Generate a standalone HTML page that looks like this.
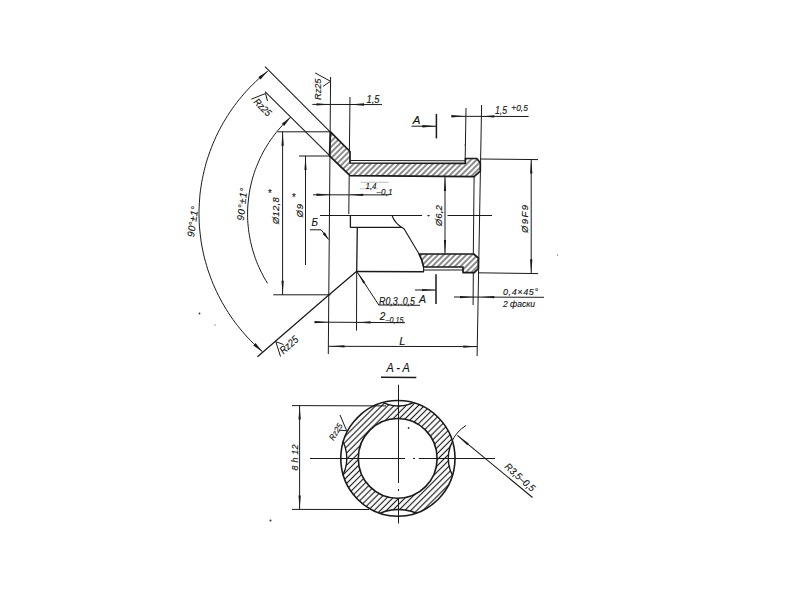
<!DOCTYPE html>
<html><head><meta charset="utf-8"><style>
html,body{margin:0;padding:0;background:#fff;width:800px;height:600px;overflow:hidden}
svg{display:block}
text{font-family:"Liberation Sans",sans-serif}
</style></head><body>
<svg width="800" height="600" viewBox="0 0 800 600">
<rect width="800" height="600" fill="#fff"/>
<line x1="330.6" y1="77.0" x2="328.3" y2="354.0" stroke="#1a1a1a" stroke-width="1.0" />
<line x1="350.0" y1="97.0" x2="349.4" y2="152.0" stroke="#1a1a1a" stroke-width="1.0" />
<line x1="349.2" y1="176.0" x2="348.8" y2="214.0" stroke="#1a1a1a" stroke-width="1.0" />
<line x1="466.0" y1="108.0" x2="465.2" y2="158.5" stroke="#1a1a1a" stroke-width="1.0" />
<line x1="481.6" y1="105.0" x2="477.1" y2="356.0" stroke="#1a1a1a" stroke-width="1.0" />
<line x1="474.1" y1="177.0" x2="473.3" y2="254.0" stroke="#1a1a1a" stroke-width="1.0" />
<line x1="473.3" y1="272.6" x2="473.1" y2="305.0" stroke="#1a1a1a" stroke-width="1.0" />
<line x1="265.0" y1="66.7" x2="330.2" y2="131.8" stroke="#1a1a1a" stroke-width="1.05" />
<line x1="265.0" y1="91.7" x2="329.9" y2="155.8" stroke="#1a1a1a" stroke-width="1.05" />
<path d="M356.7,271.3 L328.8,295.0 L257.5,356.7" fill="none" stroke="#1a1a1a" stroke-width="1.25" stroke-linejoin="round"/>
<line x1="277.5" y1="131.8" x2="330.5" y2="131.8" stroke="#1a1a1a" stroke-width="1.0" />
<line x1="299.0" y1="156.0" x2="330.5" y2="156.0" stroke="#1a1a1a" stroke-width="1.0" />
<line x1="273.3" y1="294.8" x2="330.5" y2="294.8" stroke="#1a1a1a" stroke-width="1.0" />
<line x1="480.3" y1="159.0" x2="538.0" y2="159.6" stroke="#1a1a1a" stroke-width="1.0" />
<line x1="478.0" y1="272.8" x2="538.0" y2="273.6" stroke="#1a1a1a" stroke-width="1.0" />
<line x1="282.6" y1="131.8" x2="282.6" y2="294.8" stroke="#1a1a1a" stroke-width="1.0" />
<path d="M282.6,131.8 L283.8,145.8 L281.5,145.8 Z" fill="#1a1a1a"/>
<path d="M282.6,294.8 L281.5,280.8 L283.8,280.8 Z" fill="#1a1a1a"/>
<line x1="305.5" y1="156.0" x2="305.5" y2="265.0" stroke="#1a1a1a" stroke-width="1.0" />
<path d="M305.5,156.0 L306.6,170.0 L304.4,170.0 Z" fill="#1a1a1a"/>
<line x1="531.2" y1="159.5" x2="531.2" y2="273.3" stroke="#1a1a1a" stroke-width="1.0" />
<path d="M531.2,159.5 L532.4,173.5 L530.1,173.5 Z" fill="#1a1a1a"/>
<path d="M531.2,273.3 L530.1,259.3 L532.4,259.3 Z" fill="#1a1a1a"/>
<line x1="445.0" y1="177.0" x2="445.0" y2="254.0" stroke="#1a1a1a" stroke-width="1.0" />
<path d="M445.0,177.0 L446.1,191.0 L443.9,191.0 Z" fill="#1a1a1a"/>
<path d="M445.0,254.0 L443.9,240.0 L446.1,240.0 Z" fill="#1a1a1a"/>
<path d="M320,215.5 L422,215.5 M427.5,215.5 L429.5,215.5 M447.5,215.5 L492,215.5" stroke="#1a1a1a" stroke-width="1"/>
<line x1="312.3" y1="104.4" x2="382.0" y2="104.6" stroke="#1a1a1a" stroke-width="1.0" />
<path d="M330.5,104.4 L316.5,105.6 L316.5,103.2 Z" fill="#1a1a1a"/>
<path d="M350.0,104.5 L364.0,103.3 L364.0,105.7 Z" fill="#1a1a1a"/>
<line x1="452.5" y1="116.3" x2="528.6" y2="116.5" stroke="#1a1a1a" stroke-width="1.0" />
<path d="M465.3,116.3 L451.3,117.5 L451.3,115.1 Z" fill="#1a1a1a"/>
<path d="M480.3,116.4 L494.3,115.2 L494.3,117.6 Z" fill="#1a1a1a"/>
<line x1="436.4" y1="113.9" x2="436.4" y2="138.4" stroke="#1a1a1a" stroke-width="1.5" />
<line x1="411.4" y1="126.2" x2="436.4" y2="126.2" stroke="#1a1a1a" stroke-width="1.0" />
<path d="M436.4,126.2 L422.4,127.4 L422.4,125.0 Z" fill="#1a1a1a"/>
<line x1="436.0" y1="274.3" x2="436.0" y2="304.0" stroke="#1a1a1a" stroke-width="1.5" />
<line x1="415.0" y1="290.0" x2="436.0" y2="290.0" stroke="#1a1a1a" stroke-width="1.0" />
<path d="M436.0,290.0 L422.0,291.1 L422.0,288.9 Z" fill="#1a1a1a"/>
<line x1="313.0" y1="194.8" x2="388.8" y2="194.9" stroke="#1a1a1a" stroke-width="1.0" />
<path d="M330.5,194.8 L316.5,195.9 L316.5,193.6 Z" fill="#1a1a1a"/>
<path d="M349.2,194.8 L363.2,193.7 L363.2,196.0 Z" fill="#1a1a1a"/>
<line x1="360.6" y1="182.3" x2="388.7" y2="182.3" stroke="#aaa" stroke-width="0.8"/>
<line x1="360" y1="188.8" x2="378" y2="188.8" stroke="#bbb" stroke-width="0.8"/>
<line x1="314.4" y1="322.1" x2="405.0" y2="322.7" stroke="#1a1a1a" stroke-width="1.0" />
<path d="M356.6,322.4 L370.6,321.2 L370.6,323.5 Z" fill="#1a1a1a"/>
<path d="M328.7,322.2 L314.7,323.3 L314.7,321.1 Z" fill="#1a1a1a"/>
<line x1="328.3" y1="346.3" x2="477.3" y2="346.6" stroke="#1a1a1a" stroke-width="1.0" />
<path d="M330.5,346.3 L344.5,345.2 L344.5,347.4 Z" fill="#1a1a1a"/>
<path d="M477.3,346.6 L463.3,347.8 L463.3,345.5 Z" fill="#1a1a1a"/>
<line x1="454.0" y1="297.0" x2="544.0" y2="297.3" stroke="#1a1a1a" stroke-width="1.0" />
<path d="M474.0,297.1 L460.0,298.2 L460.0,296.0 Z" fill="#1a1a1a"/>
<path d="M480.3,297.1 L494.3,296.0 L494.3,298.2 Z" fill="#1a1a1a"/>
<path d="M356.7,271.3 L378.8,305.0 L420.0,305.3" fill="none" stroke="#1a1a1a" stroke-width="1.0" stroke-linejoin="round"/>
<path d="M356.7,271.3 L365.3,282.4 L363.4,283.6 Z" fill="#1a1a1a"/>
<path d="M310.0,229.8 L321.2,229.8 L328.6,239.5" fill="none" stroke="#1a1a1a" stroke-width="1.0" stroke-linejoin="round"/>
<path d="M328.6,239.5 L322.7,234.0 L324.9,232.3 Z" fill="#1a1a1a"/>
<path d="M267.8,71.1 L264.7,73.6 L261.6,76.2 L258.6,78.9 L255.7,81.6 L252.8,84.4 L250.0,87.2 L247.3,90.1 L244.6,93.1 L242.0,96.2 L239.4,99.2 L236.9,102.4 L234.5,105.6 L232.2,108.8 L229.9,112.1 L227.7,115.5 L225.6,118.9 L223.5,122.3 L221.6,125.8 L219.7,129.3 L217.9,132.9 L216.1,136.5 L214.5,140.2 L212.9,143.9 L211.4,147.6 L210.0,151.3 L208.7,155.1 L207.4,158.9 L206.2,162.8 L205.2,166.6 L204.2,170.5 L203.3,174.4 L202.5,178.3 L201.7,182.3 L201.1,186.2 L200.5,190.2 L200.0,194.2 L199.7,198.1 L199.4,202.1 L199.2,206.1 L199.0,210.1 L199.0,214.2 L199.1,218.2 L199.2,222.2 L199.4,226.2 L199.8,230.2 L200.2,234.1 L200.7,238.1 L201.2,242.1 L201.9,246.0 L202.7,250.0 L203.5,253.9 L204.4,257.8 L205.5,261.7 L206.6,265.5 L207.7,269.3 L209.0,273.1 L210.4,276.9 L211.8,280.7 L213.3,284.4 L214.9,288.0 L216.6,291.7 L218.4,295.3 L220.2,298.8 L222.1,302.4 L224.1,305.8 L226.2,309.3 L228.3,312.6 L230.5,316.0 L232.8,319.3 L235.2,322.5 L237.6,325.7 L240.1,328.8 L242.7,331.9 L245.3,334.9 L248.0,337.9 L250.8,340.8 L253.6,343.6 L256.5,346.4 L259.5,349.1 L262.5,351.7" fill="none" stroke="#1a1a1a" stroke-width="1.0" stroke-linejoin="round"/>
<path d="M267.8,71.1 L260.5,79.4 L258.4,77.0 Z" fill="#1a1a1a"/>
<path d="M262.5,351.7 L253.3,345.5 L255.5,343.1 Z" fill="#1a1a1a"/>
<path d="M290.8,117.1 L288.5,119.1 L286.3,121.2 L284.2,123.4 L282.1,125.6 L280.1,127.9 L278.1,130.2 L276.2,132.5 L274.3,134.9 L272.5,137.4 L270.7,139.8 L269.0,142.4 L267.4,144.9 L265.8,147.5 L264.3,150.1 L262.8,152.8 L261.5,155.5 L260.1,158.2 L258.9,161.0 L257.7,163.8 L256.5,166.6 L255.4,169.5 L254.4,172.3 L253.5,175.2 L252.6,178.1 L251.8,181.1 L251.1,184.0 L250.4,187.0 L249.8,190.0 L249.3,192.9 L248.9,195.9 L248.5,199.0 L248.2,202.0 L247.9,205.0 L247.7,208.0 L247.6,211.1 L247.6,214.1 L247.6,217.2 L247.7,220.2 L247.9,223.2 L248.2,226.3 L248.5,229.3 L248.9,232.3 L249.4,235.3 L249.9,238.3 L250.5,241.3 L251.2,244.2 L251.9,247.2 L252.7,250.1 L253.6,253.0 L254.5,255.9 L255.5,258.8 L256.6,261.6 L257.7,264.4 L259.0,267.2 L260.2,270.0 L261.6,272.7 L263.0,275.4 L264.4,278.1 L265.9,280.7 L267.5,283.3" fill="none" stroke="#1a1a1a" stroke-width="1.0" stroke-linejoin="round"/>
<path d="M290.8,117.1 L284.1,125.9 L281.8,123.7 Z" fill="#1a1a1a"/>
<defs><pattern id="h" patternUnits="userSpaceOnUse" width="4.0" height="10" patternTransform="rotate(45)"><rect x="1.5" y="0" width="1.0" height="10" fill="#1a1a1a"/></pattern>
<clipPath id="c1"><path d="M330.5,131.8 L350.0,151.5 L350.0,163.0 L465.3,163.4 L465.3,158.5 L476.8,158.5 L480.3,163.0 L480.3,171.2 L474.1,176.7 L350.0,175.7 L329.5,155.8 Z"/></clipPath>
<clipPath id="c2"><path d="M419.1,254 L473.7,254 L478.3,258 L478.3,268.7 L474.25,272.6 L463,272.6 L463,267 L423.6,267 Q422,259 419.1,254 Z"/></clipPath>
</defs>
<rect x="320" y="120" width="170" height="70" fill="url(#h)" clip-path="url(#c1)"/>
<rect x="410" y="245" width="80" height="35" fill="url(#h)" clip-path="url(#c2)"/>
<path d="M330.5,131.8 L350.0,151.5 L350.0,163.0 L465.3,163.4 L465.3,158.5 L476.8,158.5 L480.3,163.0 L480.3,171.2 L474.1,176.7 L350.0,175.7 L329.5,155.8 Z" fill="none" stroke="#1a1a1a" stroke-width="1.7" stroke-linejoin="round"/>
<path d="M419.1,254 L473.7,254 L478.3,258 L478.3,268.7 L474.25,272.6 L463,272.6 L463,267 L423.6,267 Q422,259 419.1,254 Z" fill="none" stroke="#1a1a1a" stroke-width="1.7" stroke-linejoin="round"/>
<line x1="350.0" y1="160.5" x2="465.3" y2="160.8" stroke="#1a1a1a" stroke-width="1.0" />
<line x1="423.6" y1="270.0" x2="463.0" y2="270.0" stroke="#1a1a1a" stroke-width="1.0" />
<line x1="356.7" y1="271.5" x2="424.0" y2="271.8" stroke="#1a1a1a" stroke-width="1.6" />
<path d="M350.4,215.5 L350.4,227.3 L402.0,227.3" fill="none" stroke="#1a1a1a" stroke-width="1.3" stroke-linejoin="round"/>
<path d="M392,215.5 Q395,224 404,228.7 L419.1,254 M423.6,267 L423.6,272" fill="none" stroke="#1a1a1a" stroke-width="1.1"/>
<line x1="357.3" y1="227.3" x2="356.7" y2="271.3" stroke="#1a1a1a" stroke-width="1.3" />
<line x1="356.7" y1="271.3" x2="356.5" y2="330.6" stroke="#1a1a1a" stroke-width="1.0" />
<path d="M315.1,72.9 L330.5,81.3 L323.0,86.4" fill="none" stroke="#1a1a1a" stroke-width="1.0" stroke-linejoin="round"/>
<path d="M251.3,99.2 L265.5,93.5 L267.5,101.0" fill="none" stroke="#1a1a1a" stroke-width="1.0" stroke-linejoin="round"/>
<path d="M275.8,341.7 L280.5,356.5" fill="none" stroke="#1a1a1a" stroke-width="1.0" stroke-linejoin="round"/>
<path d="M275.8,341.7 L283.5,344.5" fill="none" stroke="#1a1a1a" stroke-width="1.0" stroke-linejoin="round"/>
<text x="321.0" y="100.0" font-size="9.5" font-style="italic" text-anchor="start" transform="rotate(-90 321.0 100.0)" textLength="21.5" lengthAdjust="spacingAndGlyphs" fill="#111" stroke="#111" stroke-width="0.12">Rz25</text>
<text x="366.5" y="102.8" font-size="10" font-style="italic" text-anchor="start" textLength="13" lengthAdjust="spacingAndGlyphs" fill="#111" stroke="#111" stroke-width="0.12">1,5</text>
<text x="495.0" y="114.0" font-size="10" font-style="italic" text-anchor="start" textLength="12" lengthAdjust="spacingAndGlyphs" fill="#111" stroke="#111" stroke-width="0.12">1,5</text>
<text x="511.3" y="110.9" font-size="9" font-style="italic" text-anchor="start" textLength="16.5" lengthAdjust="spacingAndGlyphs" fill="#111" stroke="#111" stroke-width="0.12">+0,5</text>
<text x="412.8" y="124.0" font-size="11.5" font-style="italic" text-anchor="start" textLength="8" lengthAdjust="spacing" fill="#111" stroke="#111" stroke-width="0.12">A</text>
<text x="365.5" y="189.2" font-size="9" font-style="italic" text-anchor="start" textLength="11" lengthAdjust="spacingAndGlyphs" fill="#111" stroke="#111" stroke-width="0.12">1,4</text>
<text x="376.5" y="194.6" font-size="8.5" font-style="italic" text-anchor="start" textLength="16" lengthAdjust="spacingAndGlyphs" fill="#111" stroke="#111" stroke-width="0.12">–0,1</text>
<text x="311.5" y="226.3" font-size="10.5" font-style="italic" text-anchor="start" textLength="6.5" lengthAdjust="spacingAndGlyphs" fill="#111" stroke="#111" stroke-width="0.12">Б</text>
<text x="442.3" y="226.2" font-size="9.5" font-style="italic" text-anchor="start" transform="rotate(-90 442.3 226.2)" textLength="21" lengthAdjust="spacing" fill="#111" stroke="#111" stroke-width="0.12">Ø6,2</text>
<text x="527.8" y="233.0" font-size="9.5" font-style="italic" text-anchor="start" transform="rotate(-90 527.8 233.0)" textLength="28" lengthAdjust="spacing" fill="#111" stroke="#111" stroke-width="0.12">Ø9F9</text>
<text x="279.0" y="224.3" font-size="9.5" font-style="italic" text-anchor="start" transform="rotate(-90 279.0 224.3)" textLength="27" lengthAdjust="spacing" fill="#111" stroke="#111" stroke-width="0.12">Ø12,8</text>
<text x="267.5" y="197.0" font-size="10" font-style="italic" text-anchor="start" fill="#111" stroke="#111" stroke-width="0.12">*</text>
<text x="302.7" y="217.5" font-size="9.5" font-style="italic" text-anchor="start" transform="rotate(-90 302.7 217.5)" textLength="13.5" lengthAdjust="spacing" fill="#111" stroke="#111" stroke-width="0.12">Ø9</text>
<text x="291.5" y="201.0" font-size="10" font-style="italic" text-anchor="start" fill="#111" stroke="#111" stroke-width="0.12">*</text>
<text x="243.8" y="221.0" font-size="10" font-style="italic" text-anchor="start" transform="rotate(-84 243.8 221.0)" textLength="33" lengthAdjust="spacing" fill="#111" stroke="#111" stroke-width="0.12">90°±1°</text>
<text x="194.0" y="237.5" font-size="10" font-style="italic" text-anchor="start" transform="rotate(-82 194.0 237.5)" textLength="31" lengthAdjust="spacing" fill="#111" stroke="#111" stroke-width="0.12">90°±1°</text>
<text x="253.0" y="102.5" font-size="10" font-style="italic" text-anchor="start" transform="rotate(45 253.0 102.5)" textLength="20.5" lengthAdjust="spacingAndGlyphs" fill="#111" stroke="#111" stroke-width="0.12">Rz25</text>
<text x="283.5" y="354.5" font-size="10.5" font-style="italic" text-anchor="start" transform="rotate(-42 283.5 354.5)" textLength="21" lengthAdjust="spacingAndGlyphs" fill="#111" stroke="#111" stroke-width="0.12">Rz25</text>
<text x="379.0" y="304.6" font-size="10" font-style="italic" text-anchor="start" textLength="36" lengthAdjust="spacingAndGlyphs" fill="#111" stroke="#111" stroke-width="0.12">R0,3..0,5</text>
<text x="419.0" y="303.0" font-size="11" font-style="italic" text-anchor="start" textLength="7" lengthAdjust="spacingAndGlyphs" fill="#111" stroke="#111" stroke-width="0.12">A</text>
<text x="503.0" y="295.3" font-size="9" font-style="italic" text-anchor="start" textLength="35" lengthAdjust="spacing" fill="#111" stroke="#111" stroke-width="0.12">0,4×45°</text>
<text x="503.0" y="307.0" font-size="9" font-style="italic" text-anchor="start" textLength="32" lengthAdjust="spacingAndGlyphs" fill="#111" stroke="#111" stroke-width="0.12">2 фаски</text>
<text x="379.8" y="319.8" font-size="10" font-style="italic" text-anchor="start" textLength="6" lengthAdjust="spacing" fill="#111" stroke="#111" stroke-width="0.12">2</text>
<text x="385.5" y="323.0" font-size="8.5" font-style="italic" text-anchor="start" textLength="18" lengthAdjust="spacingAndGlyphs" fill="#111" stroke="#111" stroke-width="0.12">–0,15</text>
<text x="399.3" y="345.0" font-size="11" font-style="italic" text-anchor="start" textLength="7" lengthAdjust="spacing" fill="#111" stroke="#111" stroke-width="0.12">L</text>
<text x="386.4" y="372.3" font-size="12" font-style="italic" text-anchor="start" textLength="23.5" lengthAdjust="spacingAndGlyphs" fill="#111" stroke="#111" stroke-width="0.12">A - A</text>
<line x1="381.0" y1="377.2" x2="416.3" y2="377.4" stroke="#1a1a1a" stroke-width="1.5" />
<defs><mask id="m"><rect x="330" y="390" width="140" height="140" fill="black"/><ellipse cx="397.9" cy="458.35" rx="57.1" ry="57.85" fill="white"/><ellipse cx="397.7" cy="458.4" rx="39.4" ry="39.9" fill="black"/><circle cx="398.3" cy="372" r="34" fill="black"/><circle cx="398.3" cy="554.5" r="45" fill="black"/><circle cx="309.8" cy="458.3" r="37" fill="black"/><circle cx="484.3" cy="458.3" r="36" fill="black"/></mask><clipPath id="oc"><ellipse cx="397.9" cy="458.35" rx="57.7" ry="58.45"/></clipPath><pattern id="h2" patternUnits="userSpaceOnUse" width="4.3" height="10" patternTransform="rotate(45)"><rect x="1.55" y="0" width="1.15" height="10" fill="#1a1a1a"/></pattern></defs>
<rect x="330" y="390" width="140" height="140" fill="url(#h2)" mask="url(#m)"/>
<ellipse cx="397.9" cy="458.35" rx="57.1" ry="57.85" fill="none" stroke="#1a1a1a" stroke-width="1.6"/>
<ellipse cx="397.7" cy="458.4" rx="39.4" ry="39.9" fill="none" stroke="#1a1a1a" stroke-width="1.6"/>
<circle cx="398.3" cy="372" r="34" fill="none" stroke="#1a1a1a" stroke-width="1.4" clip-path="url(#oc)"/>
<circle cx="398.3" cy="554.5" r="45" fill="none" stroke="#1a1a1a" stroke-width="1.4" clip-path="url(#oc)"/>
<circle cx="309.8" cy="458.3" r="37" fill="none" stroke="#1a1a1a" stroke-width="1.4" clip-path="url(#oc)"/>
<circle cx="484.3" cy="458.3" r="36" fill="none" stroke="#1a1a1a" stroke-width="1.4" clip-path="url(#oc)"/>
<path d="M310,458.5 L405,458.5 M413,458.5 L415,458.5 M418.75,458.5 L495,458.5" stroke="#1a1a1a" stroke-width="1"/>
<path d="M398.5,384.7 L398.5,483 M398.5,489 L398.5,491 M398.5,498 L398.5,523.5" stroke="#1a1a1a" stroke-width="1"/>
<line x1="292.0" y1="405.6" x2="386.0" y2="405.9" stroke="#1a1a1a" stroke-width="1.0" />
<line x1="292.0" y1="509.4" x2="369.0" y2="509.5" stroke="#1a1a1a" stroke-width="1.0" />
<line x1="299.6" y1="405.6" x2="299.6" y2="509.4" stroke="#1a1a1a" stroke-width="1.0" />
<path d="M299.6,405.6 L300.8,419.6 L298.5,419.6 Z" fill="#1a1a1a"/>
<path d="M299.6,509.4 L298.5,495.4 L300.8,495.4 Z" fill="#1a1a1a"/>
<text x="297.5" y="470.5" font-size="9" font-style="italic" text-anchor="start" transform="rotate(-90 297.5 470.5)" textLength="26" lengthAdjust="spacing" fill="#111" stroke="#111" stroke-width="0.12">8 h 12</text>
<path d="M340.0,415.0 L346.7,430.8 L338.8,430.0" fill="none" stroke="#1a1a1a" stroke-width="1.0" stroke-linejoin="round"/>
<text x="333.5" y="441.0" font-size="8.5" font-style="italic" text-anchor="start" transform="rotate(-58 333.5 441.0)" textLength="18" lengthAdjust="spacingAndGlyphs" fill="#111" stroke="#111" stroke-width="0.12">Rz25</text>
<line x1="532.5" y1="497.5" x2="457.3" y2="435.3" stroke="#1a1a1a" stroke-width="1.1" />
<path d="M457.3,435.3 L468.7,443.4 L467.3,445.2 Z" fill="#1a1a1a"/>
<path d="M452,441 Q457,431 466,425.5" fill="none" stroke="#1a1a1a" stroke-width="1"/>
<text x="504.0" y="467.5" font-size="10" font-style="italic" text-anchor="start" transform="rotate(42 504.0 467.5)" textLength="37" lengthAdjust="spacingAndGlyphs" fill="#111" stroke="#111" stroke-width="0.12">R3,5–0,5</text>
<circle cx="199.5" cy="313.5" r="0.9" fill="#333"/>
<circle cx="270.5" cy="520.5" r="1.0" fill="#333"/>
<circle cx="428.5" cy="215.8" r="0.8" fill="#333"/>
<circle cx="408.6" cy="428" r="0.9" fill="#333"/>
<circle cx="215" cy="325" r="0.6" fill="#333"/>
<circle cx="557.5" cy="255" r="0.6" fill="#333"/>
<circle cx="465" cy="145" r="0.6" fill="#333"/>
</svg></body></html>
